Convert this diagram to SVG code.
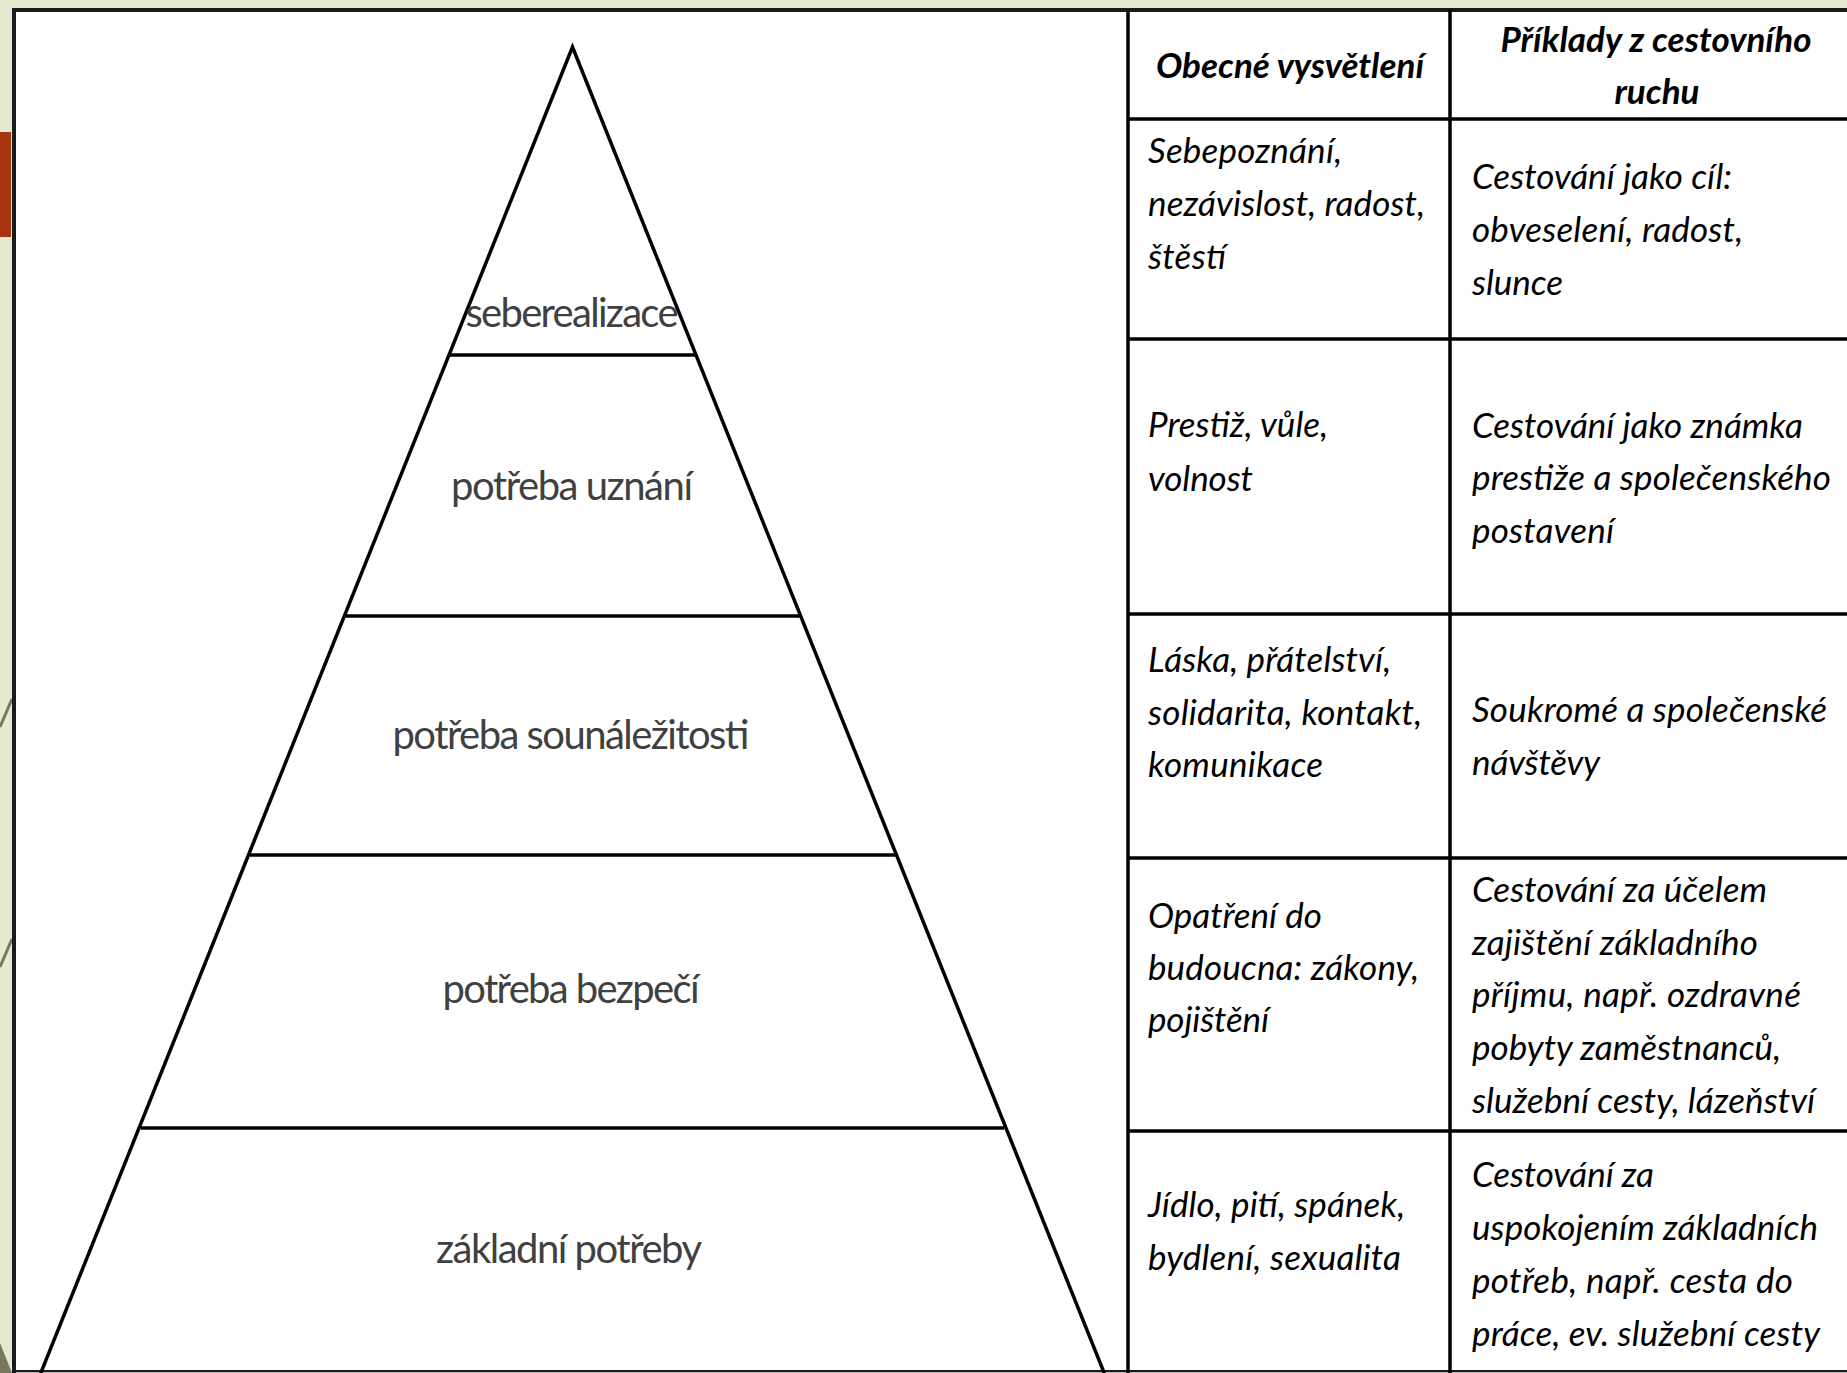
<svg xmlns="http://www.w3.org/2000/svg" width="1847" height="1373" viewBox="0 0 1847 1373">
<style>
.pl{font-family:Lato,"Open Sans","Liberation Sans",sans-serif;font-size:40px;fill:#404040;text-anchor:middle}
.tt{font-family:Lato,"Open Sans","Liberation Sans",sans-serif;font-size:35px;font-style:italic;fill:#000}
.th{font-weight:bold;text-anchor:middle}
.ln{stroke:#000;stroke-width:3.5;fill:none}
.deco{stroke:#7B765E;stroke-width:3}
</style>
<g id="background">
<rect width="1847" height="1373" fill="#E4EAD0"/>
<rect x="0" y="132" width="11" height="105" fill="#A8330F"/>
<line class="deco" x1="0" y1="727" x2="12" y2="699"/>
<line class="deco" x1="0" y1="967" x2="12" y2="939"/>
<polygon points="0,1343 12,1373 0,1373" fill="#7B765E"/>
<rect x="14" y="10" width="1850" height="1362" fill="#fff" stroke="#1a1a1a" stroke-width="4"/>
<line x1="16" y1="1372.5" x2="1847" y2="1372.5" stroke="#bbb" stroke-width="1"/>
</g>
<g id="connectors">
<polyline class="ln" points="38,1380 572.5,47 1107,1380"/>
<line class="ln" x1="449.6" y1="355" x2="695.4" y2="355"/>
<line class="ln" x1="345.5" y1="616" x2="799.5" y2="616"/>
<line class="ln" x1="250" y1="855" x2="895" y2="855"/>
<line class="ln" x1="141" y1="1128" x2="1004" y2="1128"/>
<line class="ln" x1="1128" y1="10" x2="1128" y2="1373"/>
<line class="ln" x1="1450" y1="10" x2="1450" y2="1373"/>
<line class="ln" x1="1128" y1="119" x2="1847" y2="119"/>
<line class="ln" x1="1128" y1="339" x2="1847" y2="339"/>
<line class="ln" x1="1128" y1="614" x2="1847" y2="614"/>
<line class="ln" x1="1128" y1="858" x2="1847" y2="858"/>
<line class="ln" x1="1128" y1="1131" x2="1847" y2="1131"/>
</g>
<g id="level-seberealizace"><text class="pl" x="572" y="327" textLength="213">seberealizace</text></g>
<g id="level-uznani"><text class="pl" x="572" y="500" textLength="242">potřeba uznání</text></g>
<g id="level-sounalezitost"><text class="pl" x="571" y="749" textLength="357">potřeba sounáležitosti</text></g>
<g id="level-bezpeci"><text class="pl" x="571" y="1003" textLength="257">potřeba bezpečí</text></g>
<g id="level-zakladni"><text class="pl" x="569" y="1263" textLength="266">základní potřeby</text></g>
<g id="header-obecne"><text class="tt th" x="1290" y="78" textLength="268">Obecné vysvětlení</text></g>
<g id="header-priklady">
<text class="tt th" x="1656" y="52" textLength="311">Příklady z cestovního</text>
<text class="tt th" x="1657" y="104" textLength="85">ruchu</text>
</g>
<g id="row1-obecne">
<text class="tt" x="1148" y="163" textLength="194">Sebepoznání,</text>
<text class="tt" x="1148" y="216" textLength="277">nezávislost, radost,</text>
<text class="tt" x="1148" y="269" textLength="78">štěstí</text>
</g>
<g id="row1-priklady">
<text class="tt" x="1472" y="189" textLength="260">Cestování jako cíl:</text>
<text class="tt" x="1472" y="242" textLength="271">obveselení, radost,</text>
<text class="tt" x="1472" y="295" textLength="91">slunce</text>
</g>
<g id="row2-obecne">
<text class="tt" x="1148" y="437" textLength="180">Prestiž, vůle,</text>
<text class="tt" x="1148" y="491" textLength="105">volnost</text>
</g>
<g id="row2-priklady">
<text class="tt" x="1472" y="438" textLength="331">Cestování jako známka</text>
<text class="tt" x="1472" y="490" textLength="359">prestiže a společenského</text>
<text class="tt" x="1472" y="543" textLength="142">postavení</text>
</g>
<g id="row3-obecne">
<text class="tt" x="1148" y="672" textLength="243">Láska, přátelství,</text>
<text class="tt" x="1148" y="725" textLength="274">solidarita, kontakt,</text>
<text class="tt" x="1148" y="777" textLength="175">komunikace</text>
</g>
<g id="row3-priklady">
<text class="tt" x="1472" y="722" textLength="355">Soukromé a společenské</text>
<text class="tt" x="1472" y="775" textLength="128">návštěvy</text>
</g>
<g id="row4-obecne">
<text class="tt" x="1148" y="928" textLength="174">Opatření do</text>
<text class="tt" x="1148" y="980" textLength="271">budoucna: zákony,</text>
<text class="tt" x="1148" y="1032" textLength="121">pojištění</text>
</g>
<g id="row4-priklady">
<text class="tt" x="1472" y="902" textLength="295">Cestování za účelem</text>
<text class="tt" x="1472" y="955" textLength="286">zajištění základního</text>
<text class="tt" x="1472" y="1007" textLength="329">příjmu, např. ozdravné</text>
<text class="tt" x="1472" y="1060" textLength="309">pobyty zaměstnanců,</text>
<text class="tt" x="1472" y="1113" textLength="343">služební cesty, lázeňství</text>
</g>
<g id="row5-obecne">
<text class="tt" x="1148" y="1217" textLength="257">Jídlo, pití, spánek,</text>
<text class="tt" x="1148" y="1270" textLength="253">bydlení, sexualita</text>
</g>
<g id="row5-priklady">
<text class="tt" x="1472" y="1187" textLength="182">Cestování za</text>
<text class="tt" x="1472" y="1240" textLength="346">uspokojením základních</text>
<text class="tt" x="1472" y="1293" textLength="321">potřeb, např. cesta do</text>
<text class="tt" x="1472" y="1346" textLength="348">práce, ev. služební cesty</text>
</g>
</svg>
